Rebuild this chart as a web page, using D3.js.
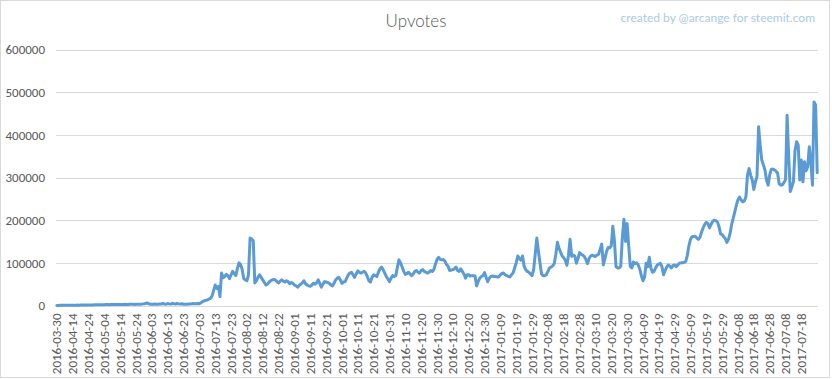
<!DOCTYPE html>
<html>
<head>
<meta charset="utf-8">
<script src="https://cdn.jsdelivr.net/npm/d3@7"></script>
<style>
  html, body { margin: 0; padding: 0; background: #fff; }
  svg { display: block; }
</style>
</head>
<body>
<svg id="chart" width="832" height="379"></svg>
<script>
// ---- data ----
const title = "Upvotes";
const credit = "created by @arcange for steemit.com";
const firstDay = "2016-03-30";          // first category, then a gap
const dailyStart = "2016-04-05";        // daily categories from here
const dailyEnd = "2017-07-28";          // last category (inclusive)

const yTicks = [0, 100000, 200000, 300000, 400000, 500000, 600000];

const tickLabels = [
  "2016-03-30","2016-04-14","2016-04-24","2016-05-04","2016-05-14","2016-05-24",
  "2016-06-03","2016-06-13","2016-06-23","2016-07-03","2016-07-13","2016-07-23",
  "2016-08-02","2016-08-12","2016-08-22","2016-09-01","2016-09-11","2016-09-21",
  "2016-10-01","2016-10-11","2016-10-21","2016-10-31","2016-11-10","2016-11-20",
  "2016-11-30","2016-12-10","2016-12-20","2016-12-30","2017-01-09","2017-01-19",
  "2017-01-29","2017-02-08","2017-02-18","2017-02-28","2017-03-10","2017-03-20",
  "2017-03-30","2017-04-09","2017-04-19","2017-04-29","2017-05-09","2017-05-19",
  "2017-05-29","2017-06-08","2017-06-18","2017-06-28","2017-07-08","2017-07-18"
];

const upvotes = [
  100, 200, 300, 300, 400, 500, 400, 500, 600, 600,
  700, 600, 800, 900, 800, 900, 1000, 1100, 1000, 1200,
  1300, 1200, 1400, 1300, 1500, 1600, 1500, 1700, 1800, 2000,
  1900, 2100, 2200, 2000, 2300, 2400, 2200, 2500, 2300, 2600,
  2400, 2200, 2500, 2700, 2600, 2400, 2800, 2900, 2700, 2500,
  3000, 2900, 2700, 3100, 3300, 3800, 4500,
  6000, 4200, 3000, 2800, 3200, 3500, 3000, 2800, 3300, 3600,
  4800, 3500, 3000, 4500, 3800, 3200, 5000, 4000, 3500, 4600,
  3800, 3300, 4200, 3000, 2900, 3200, 3500, 3400, 3800, 4500,
  4200, 4000, 4800,
  4000, 6000, 9000, 11000, 12000, 13000, 15000, 17000, 22000, 35000,
  48000, 40000, 45000, 21000, 76000, 65000, 68000, 73000, 70000, 63000,
  72000, 80000, 75000, 70000, 87000, 100000, 96000, 85000, 63000, 60000,
  58000, 72000, 158000, 156000, 152000,
  53000, 58000, 66000, 72000, 66000, 60000, 54000, 48000, 50000, 55000,
  58000, 60000, 61000, 60000, 56000, 53000, 57000, 60000, 57000, 55000,
  58000, 56000, 51000, 54000,
  52000, 48000, 46000, 43000, 47000, 50000, 53000, 58000, 51000, 48000,
  46000, 45000, 48000, 52000, 50000, 53000, 60000, 52000, 43000, 50000,
  56000, 55000, 54000, 52000, 48000, 46000, 52000, 60000, 64000, 66000,
  60000, 52000, 55000, 56000, 64000, 72000, 76000, 78000, 72000, 66000,
  74000, 81000, 78000, 76000, 78000, 80000, 76000, 68000, 58000, 55000,
  66000, 72000, 70000, 68000, 78000, 86000, 90000, 84000, 76000, 68000,
  62000, 56000, 64000, 70000, 68000, 70000, 90000, 107000, 100000, 90000,
  80000, 73000, 75000, 78000, 74000, 70000, 74000, 80000, 82000, 78000,
  76000, 82000, 84000, 80000, 78000, 76000, 78000, 82000, 80000, 84000,
  97000, 108000, 113000, 108000, 107000, 108000, 104000, 96000,
  92000, 82000, 83000, 84000, 86000, 90000, 82000, 80000, 86000, 80000,
  74000, 64000, 72000, 72000, 69000, 70000, 70000, 69000, 46000, 56000,
  64000, 68000, 70000, 77000, 66000, 56000, 64000, 68000, 69000, 68000,
  68000, 67000, 67000, 72000, 75000, 76000, 72000, 70000, 68000, 67000,
  72000, 76000, 88000, 100000, 116000, 110000, 106000, 116000, 92000, 84000,
  80000, 78000, 74000, 70000, 84000, 120000, 158000, 128000, 100000, 74000,
  70000, 70000, 72000, 80000, 88000, 90000, 93000, 98000, 120000, 148000,
  135000, 125000, 116000, 112000, 106000, 94000, 118000, 155000, 115000, 118000,
  116000, 99000, 110000, 124000, 120000, 118000, 115000, 108000, 98000, 110000,
  116000, 118000, 116000, 115000, 118000, 120000, 132000, 144000,
  95000, 110000, 126000, 136000, 135000, 140000, 186000, 152000, 91000, 88000,
  88000, 92000, 160000, 202000, 150000, 192000, 140000, 92000, 88000, 102000,
  98000, 100000, 95000, 85000, 70000, 58000, 66000, 99000, 91000, 113000,
  88000, 78000, 80000, 88000, 95000, 97000, 99000, 91000, 72000, 82000,
  90000, 95000, 92000, 88000, 94000, 95000, 91000, 95000, 99000, 100000,
  100000, 101000, 103000, 117000, 140000, 155000, 161000, 162000, 162000, 158000,
  155000, 160000, 172000, 182000, 190000, 195000, 192000, 182000, 190000, 197000,
  200000, 199000, 196000, 185000, 168000, 166000, 161000, 157000, 148000, 155000,
  169000, 190000, 205000, 220000, 235000, 248000, 254000, 247000, 243000, 245000,
  255000, 306000, 321000, 305000, 294000, 272000, 290000, 302000, 419000, 376000,
  341000, 330000, 318000, 294000, 282000, 306000, 319000, 320000, 318000, 315000,
  310000, 285000, 282000, 283000, 288000, 295000, 446000, 349000, 267000, 278000,
  290000, 364000, 384000, 376000, 294000, 341000, 290000, 337000, 316000, 325000,
  372000, 337000, 282000, 477000, 470000, 311000
];

// categories: one first day, then a daily run
const fmt = d3.timeFormat("%Y-%m-%d");
const parse = d3.timeParse("%Y-%m-%d");
const categories = [firstDay].concat(
  d3.timeDay.range(parse(dailyStart), d3.timeDay.offset(parse(dailyEnd), 1)).map(fmt)
);
const data = categories.map((c, i) => ({ date: c, value: upvotes[i] }))
  .filter(d => d.value !== undefined);

// ---- layout ----
const plot = { left: 56, right: 818, top: 49.5, bottom: 305.5 };
const textColor = "#595959";
const gridColor = "#d9d9d9";
const lineColor = "#5b9bd5";
const font = "'Liberation Sans Narrow', 'Carlito', 'Open Sans', sans-serif";

const svg = d3.select("#chart");

svg.append("rect")
  .attr("x", 0.5).attr("y", 0.5)
  .attr("width", 829).attr("height", 377)
  .attr("fill", "#fff").attr("stroke", gridColor);

const x = d3.scaleBand().domain(categories).range([plot.left, plot.right]).padding(0);
const cx = d => x(d) + x.bandwidth() / 2;
const y = d3.scaleLinear().domain([0, 600000]).range([plot.bottom, plot.top]);

// gridlines
svg.append("g").selectAll("line").data(yTicks).join("line")
  .attr("x1", plot.left).attr("x2", plot.right)
  .attr("y1", d => Math.round(y(d)) + 0.5).attr("y2", d => Math.round(y(d)) + 0.5)
  .attr("stroke", gridColor).attr("stroke-width", 1);

// y axis labels
const yAxis = d3.axisLeft(y).tickValues(yTicks).tickSize(0).tickPadding(0)
  .tickFormat(d3.format("d"));
const gy = svg.append("g").attr("transform", `translate(45,0)`).call(yAxis);
gy.select(".domain").remove();
gy.selectAll("text").attr("fill", textColor).style("font-family", font).style("font-size", "13px");

// x axis labels
const xAxis = d3.axisBottom(x).tickValues(tickLabels).tickSize(0).tickPadding(0);
const gx = svg.append("g").attr("transform", `translate(0,${plot.bottom})`).call(xAxis);
gx.select(".domain").remove();
gx.selectAll("text")
  .attr("fill", textColor)
  .style("font-family", font).style("font-size", "13px")
  .attr("text-anchor", "end")
  .attr("x", 0).attr("y", 0)
  .attr("dy", "0.35em")
  .attr("transform", "translate(0,8) rotate(-90)");

// line
const line = d3.line().x(d => cx(d.date)).y(d => y(d.value));
svg.append("path").datum(data)
  .attr("d", line)
  .attr("fill", "none")
  .attr("stroke", lineColor)
  .attr("stroke-width", 3)
  .attr("stroke-linejoin", "round")
  .attr("stroke-linecap", "round");

// title + credit
svg.append("text")
  .attr("x", 416).attr("y", 27)
  .attr("text-anchor", "middle")
  .attr("fill", textColor)
  .style("font-family", "Lato, 'Open Sans', sans-serif")
  .style("font-weight", 300)
  .style("font-size", "17px")
  .text(title);

svg.append("text")
  .attr("x", 815).attr("y", 22)
  .attr("text-anchor", "end")
  .attr("fill", "#a9cbe9")
  .style("font-family", "Lato, 'Open Sans', sans-serif")
  .style("font-size", "12px")
  .text(credit);
</script>
</body>
</html>
